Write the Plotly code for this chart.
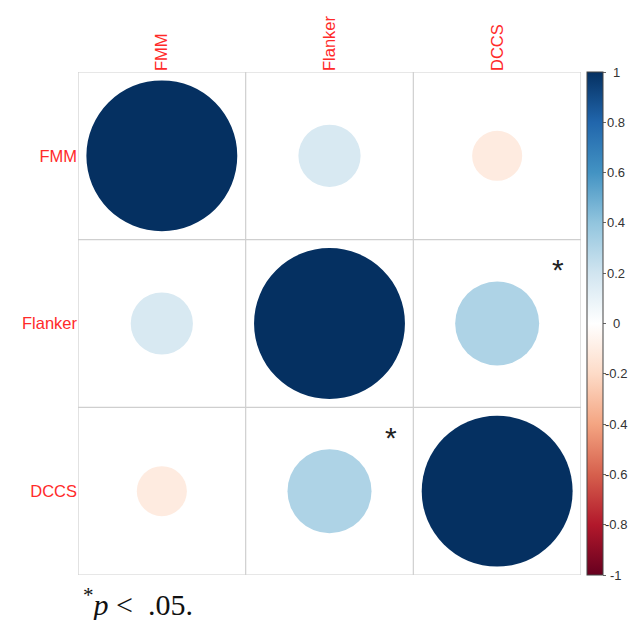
import plotly.graph_objects as go
from plotly.colors import sample_colorscale
import math

labels = ["FMM", "Flanker", "DCCS"]
corr = [
    [1.00, 0.17, -0.11],
    [0.17, 1.00, 0.31],
    [-0.11, 0.31, 1.00],
]
significant = [
    [False, False, False],
    [False, False, True],
    [False, True, False],
]
cbar_ticks = [1, 0.8, 0.6, 0.4, 0.2, 0, -0.2, -0.4, -0.6, -0.8, -1]
cbar_ticktext = ["1", "0.8", "0.6", "0.4", "0.2", "0", "-0.2", "-0.4", "-0.6", "-0.8", "-1"]
palette = ["#67001F", "#B2182B", "#D6604D", "#F4A582", "#FDDBC7", "#FFFFFF",
           "#D1E5F0", "#92C5DE", "#4393C3", "#2166AC", "#053061"]
colorscale = [[i / (len(palette) - 1), c] for i, c in enumerate(palette)]

n = len(labels)
fig = go.Figure()

shapes = []
annotations = []
# circles
for i in range(n):
    for j in range(n):
        r = corr[i][j]
        rad = 0.45 * math.sqrt(abs(r))
        col = sample_colorscale(colorscale, [(r + 1) / 2])[0]
        cx, cy = j + 1, i + 1
        shapes.append(dict(type="circle", xref="x", yref="y",
                           x0=cx - rad, x1=cx + rad, y0=cy - rad, y1=cy + rad,
                           fillcolor=col, line=dict(width=0), layer="above"))
        if significant[i][j]:
            annotations.append(dict(x=cx + 0.365, y=cy - 0.32, xref="x", yref="y",
                                    text="*", showarrow=False,
                                    font=dict(family="Liberation Sans", size=30, color="#222222"),
                                    xanchor="center", yanchor="middle"))
# grid lines
for k in range(n + 1):
    b = k + 0.5
    shapes.append(dict(type="line", xref="x", yref="y", x0=b, x1=b, y0=0.5, y1=n + 0.5,
                       line=dict(color="#CFCFCF", width=1.2), layer="below"))
    shapes.append(dict(type="line", xref="x", yref="y", x0=0.5, x1=n + 0.5, y0=b, y1=b,
                       line=dict(color="#CFCFCF", width=1.2), layer="below"))

# colorbar carrier
fig.add_trace(go.Scatter(
    x=[1], y=[1], mode="markers",
    marker=dict(size=0.1, color=[0], cmin=-1, cmax=1, colorscale=colorscale,
                showscale=True,
                colorbar=dict(thickness=16, len=1, lenmode="fraction", y=0.5, yanchor="middle",
                              x=1.0113, xanchor="left", xpad=0, ypad=0,
                              outlinewidth=1, outlinecolor="#444444",
                              tickvals=cbar_ticks, ticktext=cbar_ticktext,
                              ticks="outside", ticklen=3, tickcolor="#666666",
                              showticklabels=False)),
    hoverinfo="skip", showlegend=False))

# colorbar tick labels, centred like R's axis labels
for v, t in zip(cbar_ticks, cbar_ticktext):
    annotations.append(dict(x=1.0696, y=(v + 1) / 2, xref="paper", yref="paper",
                            text=t, showarrow=False, xanchor="center", yanchor="middle",
                            font=dict(family="Liberation Sans", size=13, color="#333333")))

annotations.append(dict(x=0.0, y=-0.012, xref="paper", yref="paper", xanchor="left", yanchor="top",
                        xshift=3,
                        text="<sup>*</sup><i>p</i> &lt;  .05.", showarrow=False,
                        font=dict(family="Liberation Serif", size=30, color="#111111")))

fig.update_layout(
    width=630, height=620,
    margin=dict(l=78, r=49, t=72, b=45, autoexpand=False),
    paper_bgcolor="white", plot_bgcolor="white",
    shapes=shapes, annotations=annotations,
    xaxis=dict(range=[0.5, n + 0.5], side="top", tickvals=list(range(1, n + 1)), ticktext=labels,
               tickangle=-90, showgrid=False, zeroline=False, showline=False, ticks="",
               tickfont=dict(family="Liberation Sans", size=16.5, color="#FF2A2A"), fixedrange=True),
    yaxis=dict(range=[n + 0.5, 0.5], tickvals=list(range(1, n + 1)), ticktext=labels,
               showgrid=False, zeroline=False, showline=False, ticks="",
               tickfont=dict(family="Liberation Sans", size=16.5, color="#FF2A2A"), fixedrange=True),
)

fig.write_html("out.html")
